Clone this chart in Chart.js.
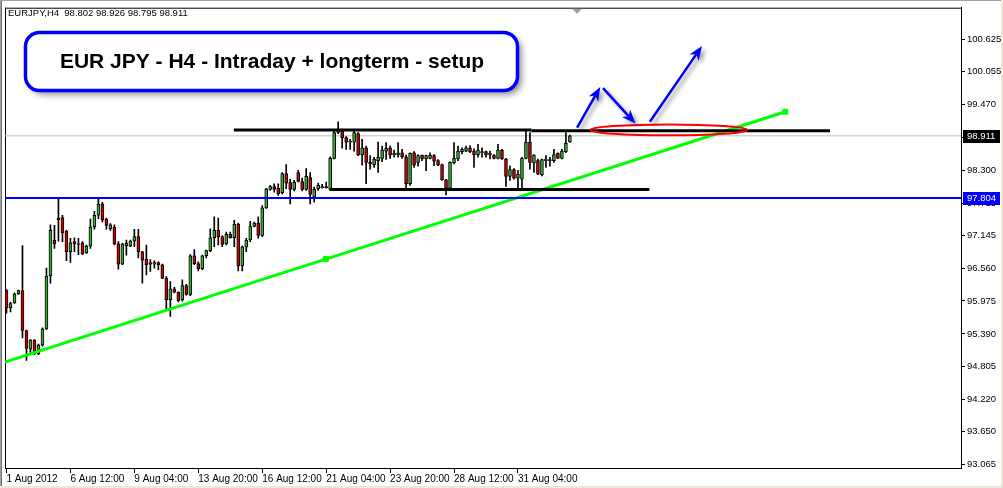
<!DOCTYPE html>
<html lang="en">
<head>
<meta charset="UTF-8" />
<title>EURJPY H4</title>
<script src="https://cdn.jsdelivr.net/npm/chart.js"></script>
<style>
  html, body { margin: 0; padding: 0; background: #fff; }
  #wrap { width: 1003px; height: 488px; }
</style>
</head>
<body>
<div id="wrap"><canvas id="chart" width="1003" height="488"></canvas></div>
<script>
// bar index of each time label and its text
const labelBars = [0, 16, 32, 48, 64, 80, 96, 112, 128];
const timeLabels = ["1 Aug 2012", "6 Aug 12:00", "9 Aug 04:00", "13 Aug 20:00", "16 Aug 12:00",
  "21 Aug 04:00", "23 Aug 20:00", "28 Aug 12:00", "31 Aug 04:00"];

const priceTicks = [100.625, 100.055, 99.470, 98.885, 98.300, 97.715, 97.145, 96.560,
  95.975, 95.390, 94.805, 94.220, 93.650, 93.065];

// H4 candles
const opens = [96.16,95.85,95.94,96.10,96.16,95.45,95.12,95.28,95.04,95.19,
  95.48,96.42,97.06,97.45,97.46,97.22,96.85,97.03,96.99,97.01,
  96.83,96.95,97.29,97.50,97.70,97.43,97.26,97.29,96.99,96.63,
  96.96,96.95,97.04,97.12,96.85,96.72,96.66,96.63,96.66,96.62,
  96.38,96.00,96.19,96.13,96.00,96.25,96.09,96.78,96.64,96.55,
  96.78,96.87,97.10,97.23,97.12,96.99,97.16,97.10,97.34,96.60,
  96.93,97.06,97.30,97.36,97.14,97.63,97.96,98.01,97.98,97.90,
  98.24,98.08,97.96,98.26,98.10,97.96,98.17,97.82,97.97,97.99,
  98.01,97.96,98.51,98.97,98.99,98.88,98.80,98.80,98.95,98.57,
  98.70,98.44,98.40,98.47,98.51,98.64,98.70,98.57,98.57,98.61,
  98.54,98.06,98.61,98.44,98.57,98.50,98.51,98.56,98.47,98.40,
  98.13,97.98,98.43,98.50,98.63,98.64,98.70,98.64,98.57,98.61,
  98.63,98.57,98.57,98.51,98.66,98.50,98.19,98.31,98.16,98.14,
  98.51,98.80,98.43,98.47,98.22,98.47,98.49,98.47,98.60,98.51,
  98.63,98.802];
const highs = [96.18,95.95,96.12,96.17,96.96,95.46,95.29,95.29,95.21,95.50,
  96.56,97.33,97.32,97.80,97.50,97.23,97.09,97.10,97.09,97.03,
  96.97,97.43,97.57,97.80,97.73,97.45,97.35,97.33,97.03,97.00,
  97.06,97.06,97.25,97.25,96.86,96.97,96.71,96.69,96.67,96.63,
  96.41,96.32,96.22,96.14,96.35,96.27,96.80,96.89,96.67,96.79,
  96.88,97.26,97.47,97.45,97.14,97.20,97.20,97.41,97.36,96.95,
  97.09,97.39,97.38,97.47,97.67,97.98,98.03,98.06,98.06,98.26,
  98.40,98.14,98.12,98.30,98.16,98.33,98.26,98.00,98.07,98.05,
  98.09,98.54,99.00,99.16,99.03,98.90,98.85,99.00,98.97,98.85,
  98.73,98.56,98.53,98.80,98.73,98.79,98.73,98.66,98.79,98.67,
  98.57,98.61,98.63,98.58,98.57,98.57,98.61,98.58,98.49,98.41,
  98.14,98.45,98.79,98.73,98.70,98.73,98.74,98.68,98.76,98.70,
  98.64,98.64,98.58,98.76,98.67,98.51,98.38,98.33,98.30,98.53,
  99.00,98.97,98.58,98.50,98.50,98.56,98.53,98.67,98.61,98.67,
  98.97,98.926];
const lows = [95.76,95.78,95.93,96.09,95.32,94.92,95.03,95.02,95.02,95.17,
  95.47,96.29,96.91,97.04,97.03,96.69,96.66,96.85,96.80,96.80,
  96.82,96.91,97.25,97.44,97.38,97.25,97.23,96.97,96.54,96.62,
  96.79,96.94,96.94,96.74,96.29,96.44,96.50,96.56,96.53,96.37,
  95.83,95.70,96.12,95.96,95.97,96.08,96.07,96.62,96.51,96.53,
  96.74,96.85,96.94,96.97,96.94,96.97,97.09,96.94,96.51,96.51,
  96.85,97.03,97.29,97.09,97.12,97.62,97.94,97.91,97.85,97.88,
  97.97,97.70,97.93,98.09,97.93,97.94,97.70,97.73,97.94,97.98,
  97.98,97.94,98.50,98.95,98.69,98.67,98.67,98.64,98.56,98.39,
  98.06,98.32,98.35,98.26,98.45,98.49,98.51,98.53,98.53,98.51,
  97.98,98.03,98.35,98.37,98.47,98.29,98.50,98.38,98.38,98.12,
  97.86,97.97,98.41,98.47,98.59,98.63,98.61,98.35,98.53,98.53,
  98.53,98.50,98.50,98.50,98.49,98.01,98.12,98.14,97.98,97.97,
  98.50,98.32,98.26,98.22,98.20,98.35,98.37,98.44,98.51,98.50,
  98.61,98.795];
const closes = [95.85,95.93,96.10,96.16,95.45,95.13,95.28,95.04,95.19,95.48,
  96.42,97.23,96.99,97.42,97.19,96.85,97.01,96.99,96.98,96.81,
  96.95,97.29,97.50,97.70,97.42,97.32,97.33,96.99,96.63,96.99,
  97.00,97.04,97.12,96.85,96.70,96.62,96.63,96.66,96.62,96.38,
  96.00,96.19,96.13,95.98,96.25,96.09,96.78,96.64,96.55,96.78,
  96.87,97.10,97.23,97.12,96.98,97.16,97.10,97.34,96.60,96.94,
  97.06,97.30,97.36,97.14,97.63,97.97,98.01,97.96,97.88,98.24,
  98.07,97.96,98.09,98.10,97.96,98.19,97.87,97.96,98.03,98.01,
  97.99,98.51,98.97,99.01,98.88,98.80,98.82,98.97,98.57,98.70,
  98.44,98.41,98.50,98.53,98.66,98.69,98.57,98.60,98.61,98.54,
  98.06,98.60,98.39,98.56,98.50,98.56,98.57,98.46,98.39,98.13,
  97.98,98.44,98.51,98.64,98.67,98.70,98.63,98.57,98.66,98.63,
  98.57,98.60,98.51,98.66,98.50,98.19,98.31,98.16,98.23,98.51,
  98.80,98.44,98.57,98.23,98.49,98.50,98.47,98.58,98.51,98.64,
  98.78,98.911];

const bidPrice = 98.911;
const levelPrice = 97.804;

// drawn objects, anchors as [bar index, price]
const resistanceA = [[56.9, 99.015], [131.4, 99.015]];
const resistanceB = [[131.4, 99.0], [206.1, 99.0]];
const support = [[80.9, 97.958], [160.9, 97.958]];
const trendLine = [[-0.4, 94.89], [79.9, 96.72], [194.9, 99.34]];
const arrows = [
  [[142.8, 99.055], [148.6, 99.78]],
  [[149.3, 99.76], [157.4, 99.13]],
  [[161.0, 99.16], [174.05, 100.507]]
];
const ellipse = { x: 165.75, y: 99.017, rx: 19.6, ry: 0.097 };

const bull = "#34b034";
const bear = "#d00000";
const fontFamily = "'Liberation Sans', Arial, sans-serif";
const yFont = { family: fontFamily, size: 9.5 };
const xFont = { family: fontFamily, size: 10 };
const xMin = -0.375, xMax = 238.875;

const pts = arr => arr.map(p => ({ x: p[0], y: p[1] }));
const lineSet = (arr, color, width, order) => ({
  type: "line", data: pts(arr), borderColor: color, borderWidth: width,
  pointRadius: 0, order: order, tension: 0
});

function drawArrow(ctx, x1, y1, x2, y2) {
  const a = Math.atan2(y2 - y1, x2 - x1);
  const len = 14, half = 5.5;
  const bx = x2 - len * Math.cos(a), by = y2 - len * Math.sin(a);
  const nx = x2 - len * 0.7 * Math.cos(a), ny = y2 - len * 0.7 * Math.sin(a);
  ctx.beginPath();
  ctx.moveTo(x1, y1);
  ctx.lineTo(nx, ny);
  ctx.stroke();
  ctx.beginPath();
  ctx.moveTo(x2, y2);
  ctx.lineTo(bx + half * Math.sin(a), by - half * Math.cos(a));
  ctx.lineTo(nx, ny);
  ctx.lineTo(bx - half * Math.sin(a), by + half * Math.cos(a));
  ctx.closePath();
  ctx.fill();
}

const decor = {
  id: "decor",
  beforeDraw(chart) {
    const ctx = chart.ctx, a = chart.chartArea;
    ctx.save();
    ctx.fillStyle = "#fff";
    ctx.fillRect(0, 0, chart.width, chart.height);
    ctx.fillStyle = "#a0a0a0";
    ctx.fillRect(0, 0, chart.width, 1);
    ctx.fillRect(0, 0, 1, chart.height);
    ctx.fillStyle = "#707070";
    ctx.fillRect(1, 1, 1, chart.height);
    ctx.fillStyle = "#ece9d8";
    ctx.fillRect(chart.width - 2, 0, 2, chart.height);
    ctx.fillRect(0, chart.height - 2, chart.width, 2);
    // chart frame, top and left
    ctx.fillStyle = "#000";
    ctx.fillRect(a.left, a.top, a.right - a.left, 1);
    ctx.fillRect(a.left, a.top, 1, a.bottom - a.top);
    // chart shift marker
    ctx.fillStyle = "#a0a0a0";
    ctx.beginPath();
    ctx.moveTo(572, a.top + 1);
    ctx.lineTo(582, a.top + 1);
    ctx.lineTo(577, a.top + 6);
    ctx.closePath();
    ctx.fill();
    ctx.restore();
  },
  afterDatasetsDraw(chart) {
    const ctx = chart.ctx, xs = chart.scales.x, ys = chart.scales.y;
    ctx.save();
    // red ellipse
    ctx.strokeStyle = "#ff0000";
    ctx.lineWidth = 2;
    const cx = xs.getPixelForValue(ellipse.x), cy = ys.getPixelForValue(ellipse.y);
    const rx = xs.getPixelForValue(ellipse.x + ellipse.rx) - cx;
    const ry = cy - ys.getPixelForValue(ellipse.y + ellipse.ry);
    ctx.beginPath();
    ctx.ellipse(cx, cy, rx, ry, 0, 0, Math.PI * 2);
    ctx.stroke();
    // blue arrows with shadow
    ctx.strokeStyle = "#0000ff";
    ctx.fillStyle = "#0000ff";
    ctx.lineWidth = 2.5;
    ctx.shadowColor = "rgba(0,0,0,0.4)";
    ctx.shadowBlur = 4;
    ctx.shadowOffsetX = 3;
    ctx.shadowOffsetY = 3;
    arrows.forEach(ar => {
      drawArrow(ctx, xs.getPixelForValue(ar[0][0]), ys.getPixelForValue(ar[0][1]),
        xs.getPixelForValue(ar[1][0]), ys.getPixelForValue(ar[1][1]));
    });
    ctx.restore();
  },
  afterDraw(chart) {
    const ctx = chart.ctx, ys = chart.scales.y, a = chart.chartArea;
    ctx.save();
    // price boxes on the axis
    ctx.font = "9.5px " + fontFamily;
    ctx.textBaseline = "middle";
    [[bidPrice, "#000"], [levelPrice, "#0000ff"]].forEach(b => {
      const y = Math.round(ys.getPixelForValue(b[0]));
      ctx.fillStyle = b[1];
      ctx.fillRect(a.right + 2, y - 6, 37, 13);
      ctx.fillStyle = "#fff";
      ctx.fillText(b[0].toFixed(3), a.right + 6, y + 0.5);
    });
    // header
    ctx.fillStyle = "#000";
    ctx.font = "9.5px " + fontFamily;
    ctx.textBaseline = "alphabetic";
    ctx.fillText("EURJPY,H4  " + opens[opens.length - 1].toFixed(3) + " " + highs[highs.length - 1].toFixed(3) + " " +
      lows[lows.length - 1].toFixed(3) + " " + closes[closes.length - 1].toFixed(3), 8, 16);
    // title box
    ctx.shadowColor = "rgba(0,0,0,0.45)";
    ctx.shadowBlur = 6;
    ctx.shadowOffsetX = 4;
    ctx.shadowOffsetY = 4;
    ctx.beginPath();
    ctx.roundRect(25.5, 32.5, 492, 58, 14);
    ctx.fillStyle = "#fff";
    ctx.fill();
    ctx.shadowColor = "transparent";
    ctx.strokeStyle = "#0000ff";
    ctx.lineWidth = 3.5;
    ctx.stroke();
    ctx.fillStyle = "#000";
    ctx.font = "bold 21px 'Liberation Sans', Arial, sans-serif";
    ctx.textAlign = "center";
    ctx.fillText("EUR JPY - H4 - Intraday + longterm - setup", 272, 68);
    ctx.restore();
  }
};

const bodies = {
  type: "bar", order: 0, grouped: false,
  data: opens.map((o, i) => ({ x: i, y: [o, closes[i]] })),
  backgroundColor: opens.map((o, i) => (closes[i] >= o ? bull : bear)),
  borderColor: "#000", borderWidth: 1, borderSkipped: false, barThickness: 3
};
const wicks = {
  type: "bar", order: 1, grouped: false,
  data: lows.map((l, i) => ({ x: i, y: [l, highs[i]] })),
  backgroundColor: "#000", borderWidth: 0, barThickness: 1
};
const trend = Object.assign(lineSet(trendLine, "#00ff00", 3, -1), {
  pointRadius: [0, 3.5, 3.5], pointStyle: "rect",
  pointBackgroundColor: "#00ff00", pointBorderColor: "#00ff00", pointBorderWidth: 1
});

new Chart(document.getElementById("chart"), {
  type: "bar",
  data: {
    datasets: [
      bodies, wicks,
      lineSet([[xMin, bidPrice], [xMax, bidPrice]], "#c0c0c0", 1, 5),
      lineSet([[xMin, levelPrice], [xMax, levelPrice]], "#0000ff", 2, -1),
      lineSet(resistanceA, "#000", 3, -1),
      lineSet(resistanceB, "#000", 3, -1),
      lineSet(support, "#000", 3, -1),
      trend
    ]
  },
  options: {
    responsive: false,
    animation: false,
    layout: { padding: { left: 4, top: 4, right: 0, bottom: 0 } },
    plugins: { legend: { display: false }, tooltip: { enabled: false } },
    scales: {
      x: {
        type: "linear", min: xMin, max: xMax, offset: false,
        afterBuildTicks: s => { s.ticks = labelBars.map(v => ({ value: v })); },
        afterFit: s => { s.height = 20; },
        grid: { drawOnChartArea: false, drawTicks: true, tickLength: 5, color: "#000", offset: false },
        border: { display: true, color: "#000", width: 1 },
        ticks: {
          align: "start", autoSkip: false, maxRotation: 0, minRotation: 0, padding: 0,
          color: "#000", font: xFont,
          callback: (v, i) => timeLabels[i]
        }
      },
      y: {
        type: "linear", position: "right", min: 93.006, max: 101.189,
        afterBuildTicks: s => { s.ticks = priceTicks.map(v => ({ value: v })); },
        afterFit: s => { s.width = 42; },
        grid: { drawOnChartArea: false, drawTicks: true, tickLength: 4, color: "#000" },
        border: { display: true, color: "#000", width: 1 },
        ticks: { color: "#000", font: yFont, padding: 2, callback: v => v.toFixed(3) }
      }
    }
  },
  plugins: [decor]
});
</script>
</body>
</html>
